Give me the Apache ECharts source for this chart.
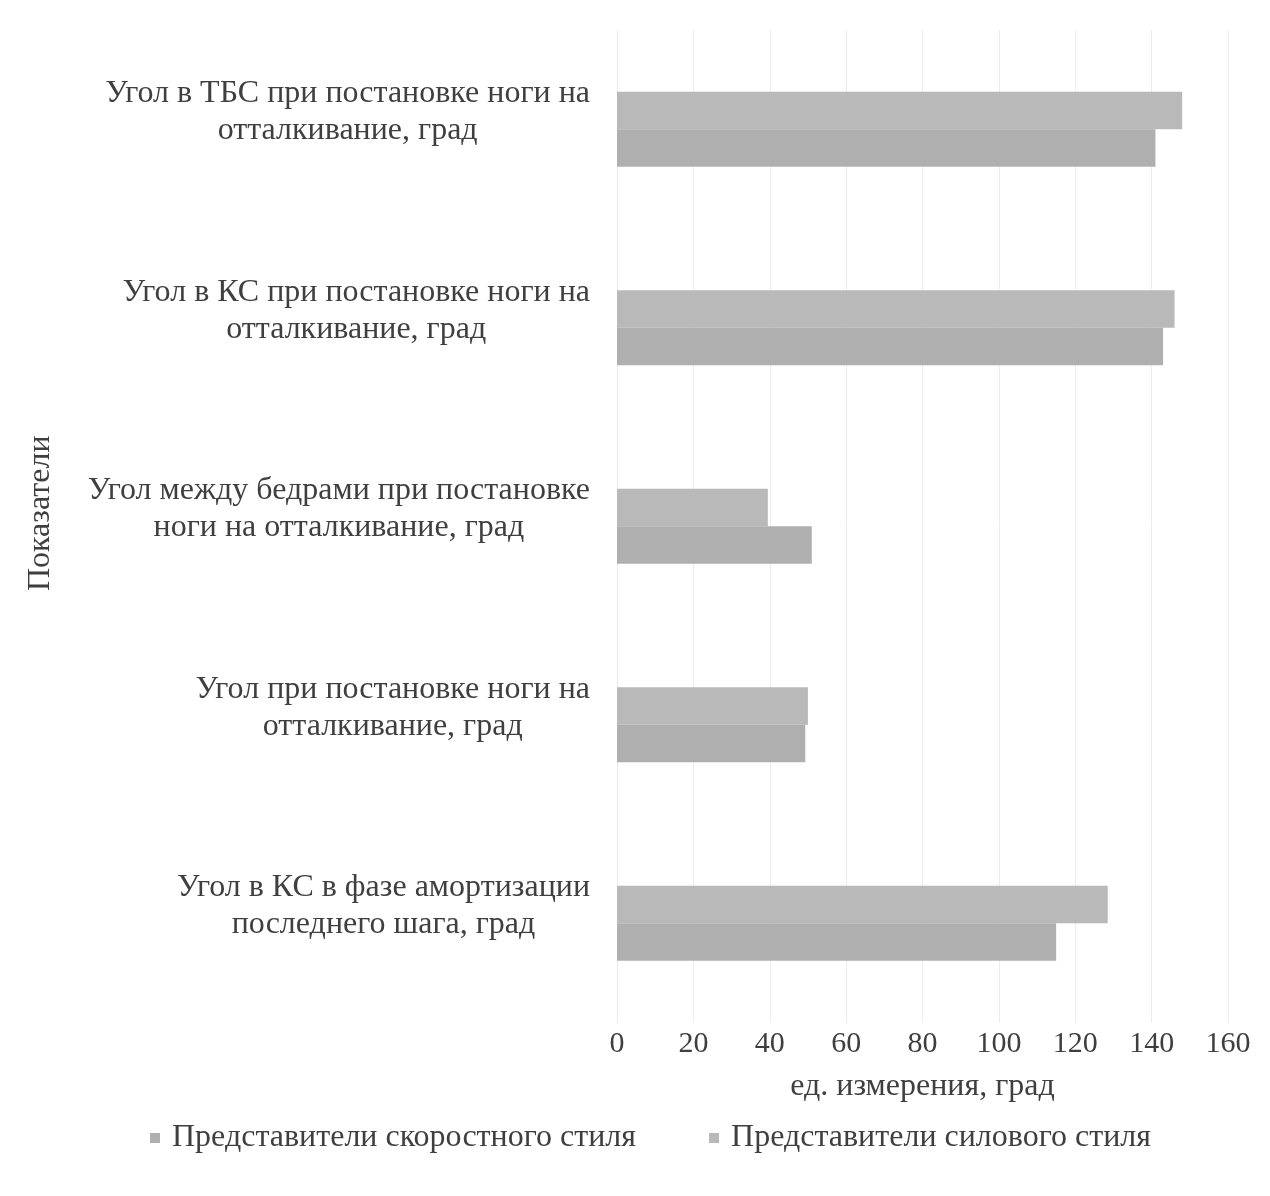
<!DOCTYPE html>
<html>
<head>
<meta charset="utf-8">
<script src="https://cdn.jsdelivr.net/npm/echarts@6/dist/echarts.min.js"></script>
<style>
  html, body { margin: 0; padding: 0; background: #ffffff; }
  #chart { width: 1270px; height: 1196px; }
</style>
</head>
<body>
<div id="chart"></div>
<script>
// Indicators (top to bottom)
const categories = [
  'Угол в ТБС при постановке ноги на\nотталкивание, град',
  'Угол в КС при постановке ноги на\nотталкивание, град',
  'Угол между бедрами при постановке\nноги на отталкивание, град',
  'Угол при постановке ноги на\nотталкивание, град',
  'Угол в КС в фазе амортизации\nпоследнего шага, град'
];
const seriesNames = ['Представители скоростного стиля', 'Представители силового стиля'];
const speedStyle = [141, 143, 51, 49.3, 115];
const powerStyle = [148, 146, 39.5, 50, 128.5];
const xTicks = [0, 20, 40, 60, 80, 100, 120, 140, 160];

const font = '"Liberation Serif", "Times New Roman", serif';
const textColor = '#3f3f3f';
const textSize = 32;

const chart = echarts.init(document.getElementById('chart'));
chart.setOption({
  backgroundColor: '#ffffff',
  animation: false,
  grid: { left: 617, right: 42, top: 30, bottom: 173.5, containLabel: false },
  legend: {
    data: seriesNames,
    left: 145,
    top: 1117,
    itemWidth: 10,
    itemHeight: 10,
    itemGap: 73,
    icon: 'rect',
    textStyle: { fontFamily: font, fontSize: textSize, color: textColor, padding: [0, 0, 0, 7] }
  },
  xAxis: {
    type: 'value',
    min: xTicks[0],
    max: xTicks[xTicks.length - 1],
    interval: 20,
    name: 'ед. измерения, град',
    nameLocation: 'middle',
    nameGap: 48,
    nameTextStyle: { fontFamily: font, fontSize: textSize, color: textColor },
    axisLine: { show: false },
    axisTick: { show: false },
    axisLabel: { fontFamily: font, fontSize: 30, color: textColor, margin: 7 },
    splitLine: { show: true, lineStyle: { color: '#ececec', width: 1 } }
  },
  yAxis: {
    type: 'category',
    data: categories,
    inverse: true,
    name: 'Показатели',
    nameLocation: 'middle',
    nameGap: 560,
    nameRotate: 90,
    nameTextStyle: { fontFamily: font, fontSize: textSize, color: textColor, padding: [0, 0, 0, 26] },
    axisLine: { show: false },
    axisTick: { show: false },
    axisLabel: {
      align: 'right',
      margin: 27,
      padding: [0, 0, 34, 0],
      // each line centred within the right-aligned label block
      formatter: (v) => v.split('\n').map((l) => '{c|' + l + '}').join('\n'),
      rich: {
        c: { align: 'center', fontFamily: font, fontSize: textSize, color: textColor, lineHeight: 37 }
      }
    },
    splitLine: { show: false }
  },
  series: [
    {
      name: seriesNames[1],
      type: 'bar',
      data: powerStyle,
      barWidth: 37.5,
      barGap: '0%',
      itemStyle: { color: '#b9b9b9' }
    },
    {
      name: seriesNames[0],
      type: 'bar',
      data: speedStyle,
      barWidth: 37.5,
      barGap: '0%',
      itemStyle: { color: '#afafaf' }
    }
  ]
});
</script>
</body>
</html>
